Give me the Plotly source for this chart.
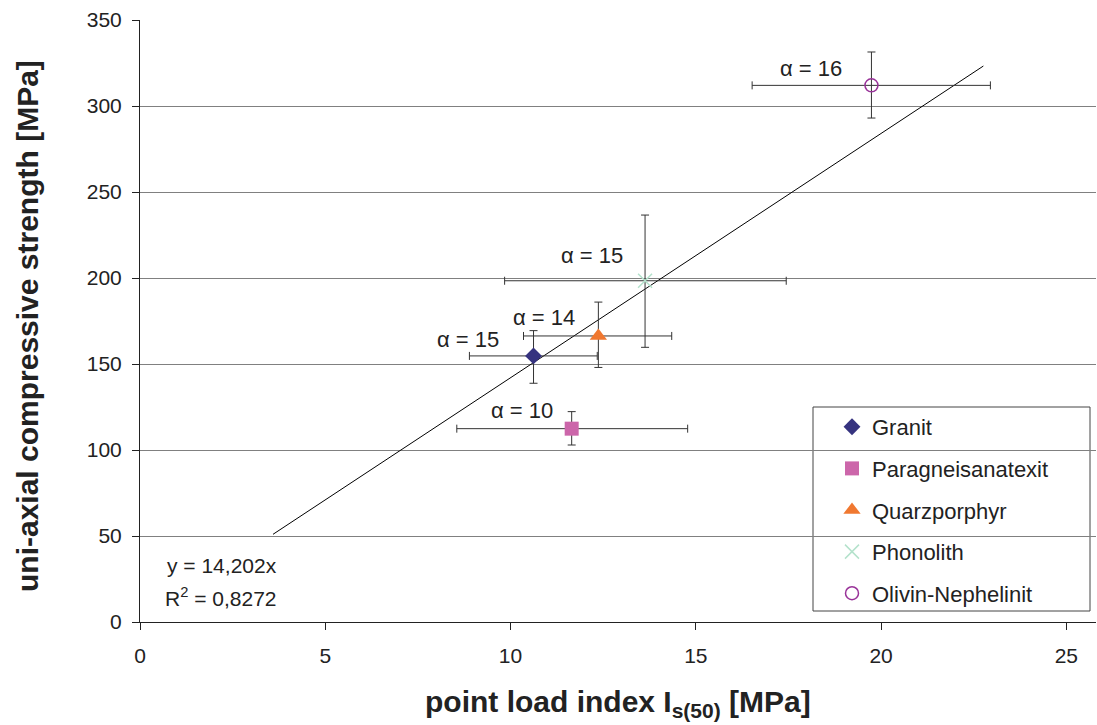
import plotly.graph_objects as go

names = ["Granit", "Paragneisanatexit", "Quarzporphyr", "Phonolith", "Olivin-Nephelinit"]
x_vals = [10.62, 11.65, 12.37, 13.63, 19.74]
y_vals = [154.7, 112.4, 166.3, 198.4, 312.0]
x_lo = [8.89, 8.55, 10.35, 9.84, 16.52]
x_hi = [12.34, 14.78, 14.35, 17.44, 22.95]
y_lo = [138.8, 102.9, 148.0, 159.7, 293.0]
y_hi = [169.4, 122.3, 186.0, 236.6, 331.4]
alpha_labels = ["α = 15", "α = 10", "α = 14", "α = 15", "α = 16"]
label_x = [8.86, 10.3, 10.9, 12.2, 18.1]
label_y = [164, 123, 177, 213, 322]
symbols = ["diamond", "square", "triangle-up", "x-thin-open", "circle-open"]
colors = ["#36337f", "#cc66aa", "#f07830", "#b4e2cc", "#993399"]
sizes = [13, 14, 15, 14, 13]

slope = 14.202
trend_x = [3.59, 22.76]
trend_y = [slope * v for v in trend_x]

W, H = 1097, 725
L, R, T, B = 140, 1, 20, 103
pw, ph = W - L - R, H - T - B

def px_x(p):
    return (p - L) / pw

def px_y(p):
    return (H - B - p) / ph

fig = go.Figure()
fig.add_trace(go.Scatter(x=trend_x, y=trend_y, mode="lines",
                         line=dict(color="black", width=1), showlegend=False,
                         hoverinfo="skip"))
for i, n in enumerate(names):
    fig.add_trace(go.Scatter(
        x=[x_vals[i]], y=[y_vals[i]], mode="markers", name=n,
        legendgroup=n,
        marker=dict(symbol=symbols[i], color=colors[i], size=sizes[i],
                    line=dict(color=colors[i], width=1.5 if i >= 3 else 0)),
        error_x=dict(type="data", symmetric=False,
                     array=[x_hi[i] - x_vals[i]], arrayminus=[x_vals[i] - x_lo[i]],
                     color="#333333", thickness=1, width=4),
        error_y=dict(type="data", symmetric=False,
                     array=[y_hi[i] - y_vals[i]], arrayminus=[y_vals[i] - y_lo[i]],
                     color="#333333", thickness=1, width=4),
    ))

for i in range(len(alpha_labels)):
    fig.add_annotation(x=label_x[i], y=label_y[i], text=alpha_labels[i],
                       showarrow=False, font=dict(size=22, color="#222222"))

fig.add_annotation(x=px_x(165), y=px_y(565), xref="paper", yref="paper",
                   text="y = 14,202x", showarrow=False, xanchor="left",
                   yanchor="middle", font=dict(size=21, color="#222222"))
fig.add_annotation(x=px_x(163), y=px_y(597), xref="paper", yref="paper",
                   text="R<sup>2</sup> = 0,8272", showarrow=False, xanchor="left",
                   yanchor="middle", font=dict(size=21, color="#222222"))

fig.add_annotation(x=px_x(618), y=px_y(703), xref="paper", yref="paper",
                   text="<b>point load index I<sub>s(50)</sub> [MPa]</b>",
                   showarrow=False, xanchor="center", yanchor="middle",
                   font=dict(size=30, color="#222222"))
fig.add_annotation(x=px_x(27), y=px_y(326), xref="paper", yref="paper",
                   text="<b>uni-axial compressive strength [MPa]</b>",
                   showarrow=False, xanchor="center", yanchor="middle",
                   textangle=-90, font=dict(size=30, color="#222222"))

# legend frame
fig.add_shape(type="rect", xref="paper", yref="paper",
              x0=px_x(813), x1=px_x(1090), y0=px_y(611), y1=px_y(407),
              line=dict(color="#444444", width=1), fillcolor="white", layer="below")

fig.update_layout(
    width=W, height=H,
    margin=dict(l=L, r=R, t=T, b=B),
    plot_bgcolor="white", paper_bgcolor="white",
    font=dict(family="Liberation Sans, Arial, sans-serif", size=21, color="#222222"),
    legend=dict(x=px_x(832), y=px_y(406), xanchor="left", yanchor="top",
                borderwidth=0, bgcolor="rgba(0,0,0,0)",
                font=dict(size=22), tracegroupgap=10, traceorder="grouped",
                itemwidth=30),
    xaxis=dict(range=[0, 25.8], dtick=5, tick0=0, showgrid=False,
               showline=True, linecolor="#222222", linewidth=1,
               ticks="outside", ticklen=7, tickcolor="#222222", zeroline=False,
               ticklabelstandoff=8, tickfont=dict(size=21)),
    yaxis=dict(range=[0, 350], dtick=50, tick0=0, showgrid=True,
               gridcolor="#808080", gridwidth=1,
               showline=True, linecolor="#222222", linewidth=1,
               ticks="outside", ticklen=7, tickcolor="#222222", zeroline=False,
               ticklabelstandoff=6, tickfont=dict(size=21)),
)

fig.write_html("out.html")
